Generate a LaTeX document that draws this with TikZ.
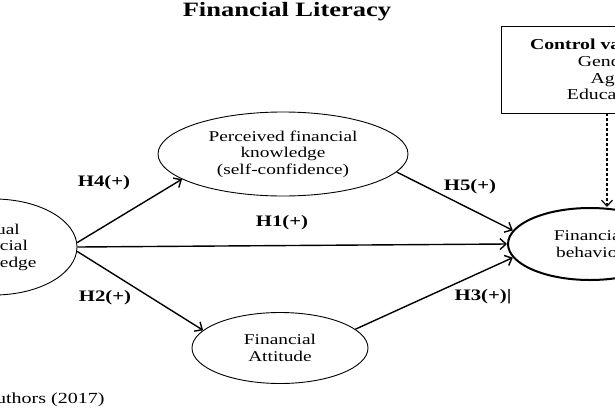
\documentclass[tikz,border=0pt]{standalone}
\usepackage{fontspec}
\setmainfont{Liberation Serif}[FakeStretch=1.3]
\usetikzlibrary{shapes.geometric,arrows.meta}
\begin{document}
\begin{tikzpicture}[x=1pt, y=-1pt, line join=round, >={Straight Barb[length=6pt,width=11pt]},
	construct/.style={draw, ellipse, line width=0.9pt, inner sep=0pt, align=center, font=\fontsize{14.9}{16.5}\selectfont},
	hyp/.style={font=\fontsize{16}{18}\selectfont\bfseries},
	link/.style={->, line width=1.4pt}]
		\useasboundingbox (0,0) rectangle (615,410);
		\clip (0,0) rectangle (615,410);
		\node[anchor=base, font=\fontsize{20.4}{22}\selectfont\bfseries] (title) at (287,16) {Financial Literacy};
		\node[construct, minimum width=166pt, minimum height=96pt] (ak) at (-6,247) {Actual\\financial\\knowledge};
		\node[construct, minimum width=250pt, minimum height=84pt] (pk) at (283,154) {Perceived financial\\knowledge\\(self-confidence)};
		\node[construct, minimum width=176pt, minimum height=71pt] (fa) at (280,348) {Financial\\Attitude};
		\node[construct, line width=2pt, minimum width=164pt, minimum height=72pt] (fb) at (590,244) {Financial\\behavior};
		\node[draw, line width=0.9pt, minimum width=212pt, minimum height=87pt, align=center, font=\fontsize{15.2}{16.7}\selectfont] (cv) at (607,69.5) {\textbf{Control variables:}\\Gender\\Age\\Education};
		\draw[link] (ak.3) -- (pk.194);
		\draw[link] (ak.east) -- (fb.west);
		\draw[link] (ak.-3) -- (fa.167);
		\draw[link] (pk.-9) -- (fb.170);
		\draw[link] (fa.14) -- (fb.190);
		\draw[link, line width=1.2pt, dash pattern=on 3pt off 2pt] (cv.south) -- (cv.south |- fb.north);
		\node[hyp] (h4) at (104,183) {H4(+)}; \node[hyp] (h1) at (282,223) {H1(+)}; \node[hyp] (h5) at (470,187) {H5(+)};
		\node[hyp] (h2) at (105,298) {H2(+)}; \node[hyp] (h3) at (483,297) {H3(+)|};
		\node[anchor=base east, font=\fontsize{15.4}{17}\selectfont] (src) at (108,403) {Source: Authors (2017)};
		\end{tikzpicture}
\end{document}
